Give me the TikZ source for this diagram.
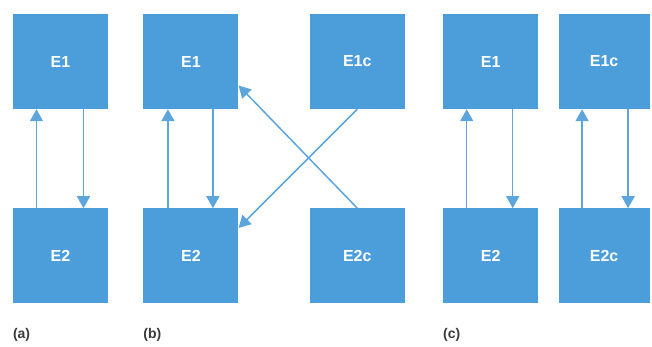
\documentclass[tikz,border=0pt]{standalone}
\usepackage{fontspec}
\setmainfont{Liberation Sans}
\usepackage{tikz}
\usetikzlibrary{arrows.meta,positioning}
\definecolor{cBox}{HTML}{4C9EDB}
\definecolor{cLine}{HTML}{5DA6DD}
\definecolor{cLbl}{HTML}{3A3A3A}
\tikzset{
  ebox/.style={rectangle,fill=cBox,minimum width=95pt,minimum height=95pt,
               inner sep=0pt,text=white,font=\fontsize{16}{18}\selectfont\bfseries},
  link/.style={-{Triangle[length=12pt,width=13pt]},line width=1.5pt,cLine},
  lbl/.style={text=cLbl,inner sep=0pt,font=\fontsize{14}{16}\selectfont\bfseries},
}

\begin{document}
\begin{tikzpicture}[x=1pt,y=-1pt]
  \useasboundingbox (0,0) rectangle (652,346);
  % (a)
  \node[ebox] (a1) at (60.5,61.5) {E1};
  \node[ebox,below=99pt of a1] (a2) {E2};
  \draw[link] ([xshift=-24pt]a2.north) -- ([xshift=-24pt]a1.south);
  \draw[link] ([xshift=23pt]a1.south) -- ([xshift=23pt]a2.north);
  % (b)
  \node[ebox,right=35pt of a1] (b1) {E1};
  \node[ebox,below=99pt of b1] (b2) {E2};
  \node[ebox,right=71pt of b1] (b1c) {E1c};
  \node[ebox,below=99pt of b1c] (b2c) {E2c};
  \draw[link] ([xshift=-23pt]b2.north) -- ([xshift=-23pt]b1.south);
  \draw[link] ([xshift=22pt]b1.south) -- ([xshift=22pt]b2.north);
  \draw[link] (b2c.north) -- ([yshift=-24pt]b1.east);
  \draw[link] (b1c.south) -- ([yshift=28pt]b2.east);
  % (c)
  \node[ebox,right=38pt of b1c] (c1) {E1};
  \node[ebox,below=99pt of c1] (c2) {E2};
  \node[ebox,minimum width=91pt,right=20pt of c1] (c1c) {E1c};
  \node[ebox,minimum width=91pt,below=99pt of c1c] (c2c) {E2c};
  \draw[link] ([xshift=-24pt]c2.north) -- ([xshift=-24pt]c1.south);
  \draw[link] ([xshift=22pt]c1.south) -- ([xshift=22pt]c2.north);
  \draw[link] ([xshift=-22pt]c2c.north) -- ([xshift=-22pt]c1c.south);
  \draw[link] ([xshift=24pt]c1c.south) -- ([xshift=24pt]c2c.north);
  % labels
  \node[lbl,below=25pt of a2.south west,anchor=north west] (la) {(a)};
  \node[lbl,below=25pt of b2.south west,anchor=north west] (lb) {(b)};
  \node[lbl,below=25pt of c2.south west,anchor=north west] (lc) {(c)};
\end{tikzpicture}
\end{document}
